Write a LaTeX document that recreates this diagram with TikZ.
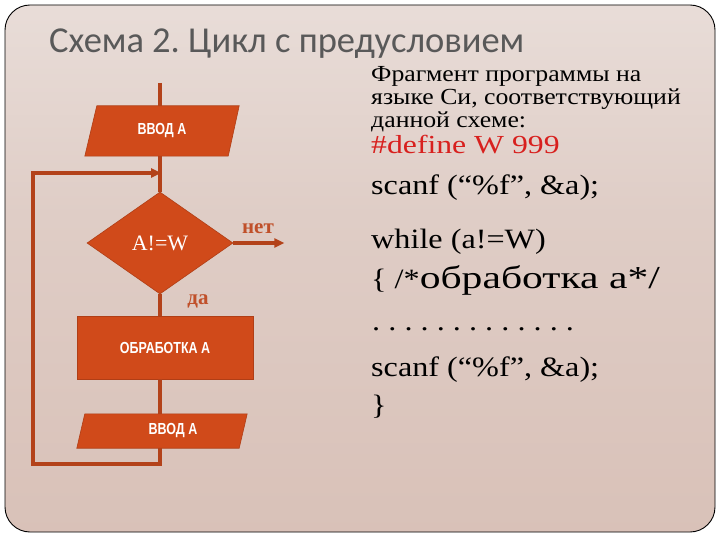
\documentclass[tikz,border=0pt]{standalone}
\usepackage{fontspec}
\setmainfont{Liberation Serif}
\newfontfamily\titlefont{Carlito}
\newfontfamily\boxfont[FakeStretch=0.78]{Liberation Sans}
\newfontfamily\descfont[FakeStretch=1.12]{Liberation Serif}
\newfontfamily\codefont[FakeStretch=1.15]{Liberation Serif}
\newfontfamily\deffont[FakeStretch=1.22]{Liberation Serif}
\newfontfamily\widefont[FakeStretch=1.3]{Liberation Serif}
\usetikzlibrary{shapes.geometric,arrows.meta}
\definecolor{bgA}{HTML}{F4F0EE}
\definecolor{bgB}{HTML}{DFCDC6}
\definecolor{bgC}{HTML}{D6BCB2}
\definecolor{bgD}{HTML}{E0CAC1}
\definecolor{shapefill}{HTML}{D04A1A}
\definecolor{shapeedge}{HTML}{B03E16}
\definecolor{linecol}{HTML}{B3421A}
\definecolor{lblcol}{HTML}{C0502A}
\definecolor{titlecol}{HTML}{595959}
\definecolor{defred}{HTML}{D8201E}
\pgfdeclareverticalshading{bgshade}{100bp}{color(0bp)=(bgD); color(12bp)=(bgC); color(55bp)=(bgB); color(100bp)=(bgA)}
\pgfdeclarelayer{shp}
\pgfsetlayers{shp,main}
\newcommand\dd{.\hspace{8.1pt}}
\frenchspacing
\begin{document}
\begin{tikzpicture}[x=1pt,y=-1pt,
  io/.style={inner sep=0pt, text=white, font=\boxfont\bfseries\fontsize{16}{18}\selectfont},
  procbox/.style={rectangle, fill=shapefill, draw=shapeedge, line width=0.6pt, inner sep=0pt, text=white, font=\boxfont\bfseries\fontsize{16}{18}\selectfont},
  decision/.style={diamond, fill=shapefill, draw=shapeedge, line width=0.6pt, inner sep=0pt, text=white, font=\fontsize{22}{24}\selectfont},
  conn/.style={draw=linecol, line width=3.6pt},
  tip/.style={-{Triangle[length=10pt,width=9pt]}},
  lbl/.style={text=lblcol, font=\bfseries\fontsize{21}{24}\selectfont, inner sep=0pt},
  desc/.style={anchor=base west, inner sep=0pt, font=\descfont\fontsize{23}{24}\selectfont},
  code/.style={anchor=base west, inner sep=0pt, font=\codefont\fontsize{28}{32}\selectfont}
]
\useasboundingbox (0,0) rectangle (720,540);
\begin{pgfonlayer}{shp}
  \fill[white] (0,0) rectangle (720,540);
  \shade[shading=bgshade, rounded corners=25pt] (5,5) rectangle (715,532);
  \draw[black, line width=0.9pt, rounded corners=25pt] (5,5) rectangle (715,532);
\end{pgfonlayer}

% title
\node[anchor=base west, inner sep=0pt, text=titlecol, font=\titlefont\fontsize{36.5}{40}\selectfont] (title) at (49,53) {Схема 2. Цикл с предусловием};

% flowchart nodes
\node[io, minimum width=154pt, minimum height=50pt] (in1) at (162,131) {ВВОД А};
\node[decision, minimum width=146pt, minimum height=102pt] (d) at (160,243) {A!=W};
\node[procbox, minimum width=176pt, minimum height=63pt] (p) at (165,347.5) {ОБРАБОТКА А};
\node[io, minimum width=170pt, minimum height=34pt] (in2) at (162,431) {\hspace*{22pt}ВВОД А};

\begin{pgfonlayer}{shp}
  \fill[shapefill, draw=shapeedge, line width=0.6pt] ([xshift=12pt]in1.north west) -- (in1.north east) -- ([xshift=-11pt]in1.south east) -- (in1.south west) -- cycle;
  \fill[shapefill, draw=shapeedge, line width=0.6pt] ([xshift=8pt]in2.north west) -- (in2.north east) -- ([xshift=-8pt]in2.south east) -- (in2.south west) -- cycle;
\end{pgfonlayer}

% connectors
\coordinate (top) at (160,83);
\coordinate (bl) at (33,464);
\coordinate (join) at (161,173);
\draw[conn] (top) -- (top |- in1.north);
\draw[conn] (in1.south -| d.north) -- (d.north);
\draw[conn] (d.south) -- (d.south |- p.north);
\draw[conn] (p.south -| d.south) -- (in2.north -| d.south);
\draw[conn, tip] (in2.south -| d.south) |- (bl) |- (join);
\draw[conn, tip] (d.east) -- ++(51,0) coordinate (noend);
\node[lbl] (net) at (258,229) {нет};
\node[lbl] (da) at (198,301) {да};

% right-hand text
\node[desc] (t1) at (371,82) {Фрагмент программы на};
\node[desc] (t2) at (371,105) {языке Си, соответствующий};
\node[desc] (t3) at (371,128) {данной схеме:};
\node[anchor=base west, inner sep=0pt, text=defred, font=\deffont\fontsize{26}{28}\selectfont] (c1) at (371,154) {\#define W 999};
\node[code] (c2) at (371,195) {scanf (“\%f”, \&a);};
\node[code] (c3) at (371,248) {while (a!=W)};
\node[code] (c4) at (371,288) {\{ /*{\widefont\fontsize{32}{36}\selectfont обработка a*/}};
\node[code] (c5) at (372,330) {\dd\dd\dd\dd\dd\dd\dd\dd\dd\dd\dd\dd.};
\node[code] (c6) at (371,376) {scanf (“\%f”, \&a);};
\node[code] (c7) at (371,414) {\}};
\end{tikzpicture}
\end{document}
